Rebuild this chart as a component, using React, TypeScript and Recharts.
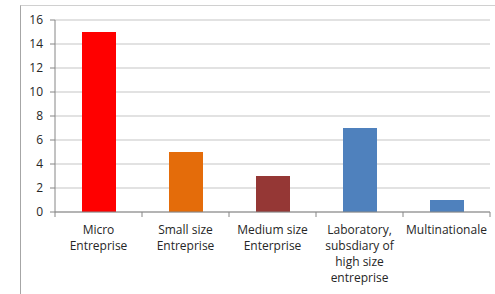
import { BarChart, Bar, XAxis, YAxis, CartesianGrid, Cell } from "recharts";

const categories = [
  "Micro Entreprise",
  "Small size Entreprise",
  "Medium size Enterprise",
  "Laboratory, subsdiary of high size entreprise",
  "Multinationale",
];
const tickLines = [
  ["Micro", "Entreprise"],
  ["Small size", "Entreprise"],
  ["Medium size", "Enterprise"],
  ["Laboratory,", "subsdiary of", "high size", "entreprise"],
  ["Multinationale"],
];
const counts = [15, 5, 3, 7, 1];
const yTicks = [0, 2, 4, 6, 8, 10, 12, 14, 16];

const barColors = ["#ff0000", "#e46c0a", "#953735", "#4f81bd", "#4f81bd"];

const data = categories.map((name, i) => ({ name, count: counts[i] }));

const FONT = "'Open Sans', 'DejaVu Sans', sans-serif";
const HALF_BAND = 43.5;

function CategoryTick(props: any) {
  const { x, y, index } = props;
  const lines = tickLines[index] ?? [];
  const top = y - 8; // axis line position
  return (
    <g>
      <line x1={x - HALF_BAND} y1={top} x2={x - HALF_BAND} y2={top + 5} stroke="#868686" />
      {index === categories.length - 1 && (
        <line x1={x + HALF_BAND} y1={top} x2={x + HALF_BAND} y2={top + 5} stroke="#868686" />
      )}
      <text x={x} y={top + 22} textAnchor="middle" fill="#262626" fontSize={12} fontFamily={FONT}>
        {lines.map((l: string, i: number) => (
          <tspan key={i} x={x} dy={i === 0 ? 0 : 16}>
            {l}
          </tspan>
        ))}
      </text>
    </g>
  );
}

export default function App() {
  return (
    <div style={{ position: "absolute", left: 0, top: 0, width: 495, height: 294, background: "#fff" }}>
      <div
        style={{
          position: "absolute",
          left: 20,
          top: 5,
          right: 0,
          bottom: 0,
          borderLeft: "1px solid #a6a6a6",
          borderTop: "1px solid #d0d0d0",
        }}
      />
      <div style={{ position: "absolute", left: 0, top: 0 }}>
        <BarChart
          width={495}
          height={294}
          data={data}
          margin={{ top: 20, right: 5, bottom: 0, left: 20 }}
        >
          <CartesianGrid vertical={false} stroke="#d9d9d9" strokeWidth={1.5} />
          <XAxis
            dataKey="name"
            height={82}
            tickLine={false}
            tickSize={0}
            tickMargin={8}
            stroke="#868686"
            interval={0}
            tick={<CategoryTick />}
          />
          <YAxis
            width={35}
            domain={[0, 16]}
            ticks={yTicks}
            interval={0}
            stroke="#868686"
            tickSize={5}
            tickMargin={7}
            tick={{ fill: "#262626", fontSize: 12, fontFamily: FONT }}
          />
          <Bar dataKey="count" barSize={34} isAnimationActive={false}>
            {data.map((d, i) => (
              <Cell key={d.name} fill={barColors[i]} />
            ))}
          </Bar>
        </BarChart>
      </div>
    </div>
  );
}
